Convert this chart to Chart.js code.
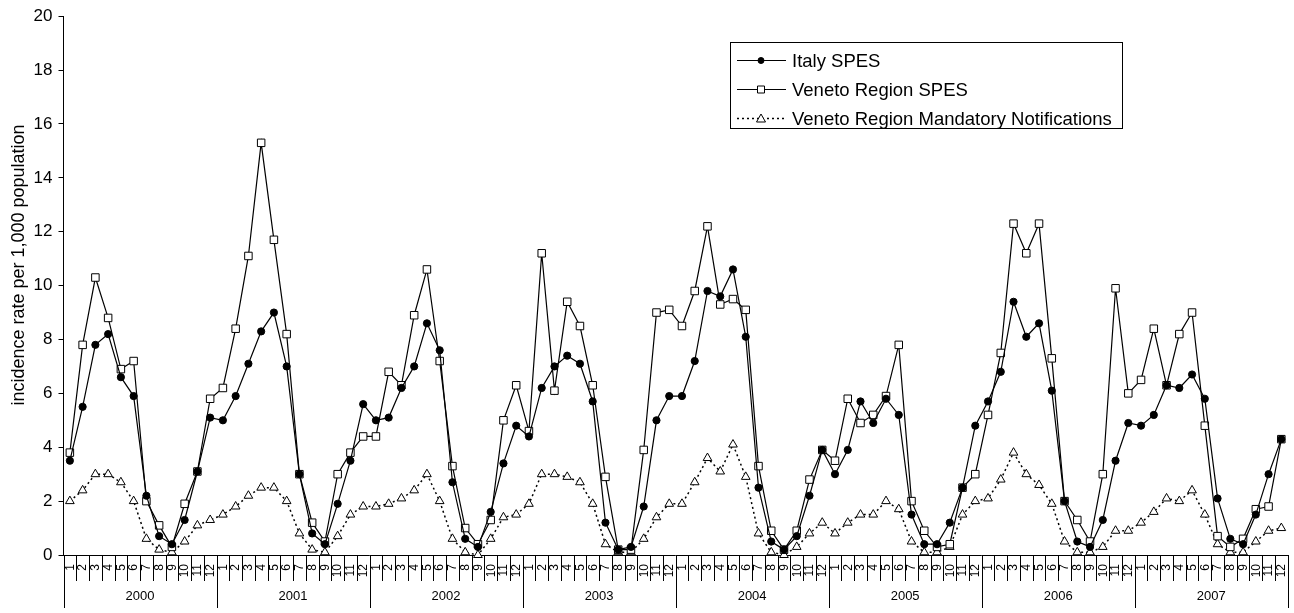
<!DOCTYPE html>
<html>
<head>
<meta charset="utf-8">
<script src="https://cdn.jsdelivr.net/npm/chart.js@4.4.1/dist/chart.umd.min.js"></script>
<style>
  html, body { margin: 0; padding: 0; background: #fff; }
  #wrap { width: 1294px; height: 613px; position: relative; }
</style>
</head>
<body>
<div id="wrap"><canvas id="incidenceChart"></canvas></div>
<script>
// Years and month numbers shown on the two-level x axis
const years = ['2000', '2001', '2002', '2003', '2004', '2005', '2006', '2007'];
const monthLabels = ['1', '2', '3', '4', '5', '6', '7', '8', '9', '10', '11', '12'];
const yTicks = [0, 2, 4, 6, 8, 10, 12, 14, 16, 18, 20];

// Incidence rate per 1,000 population, one value per month 2000-2007
const italySpes = [
    3.5, 5.5, 7.8, 8.2, 6.6, 5.9, 2.2, 0.7, 0.4, 1.3, 3.1, 5.1,
    5.0, 5.9, 7.1, 8.3, 9.0, 7.0, 3.0, 0.8, 0.4, 1.9, 3.5, 5.6,
    5.0, 5.1, 6.2, 7.0, 8.6, 7.6, 2.7, 0.6, 0.3, 1.6, 3.4, 4.8,
    4.4, 6.2, 7.0, 7.4, 7.1, 5.7, 1.2, 0.2, 0.3, 1.8, 5.0, 5.9,
    5.9, 7.2, 9.8, 9.6, 10.6, 8.1, 2.5, 0.5, 0.2, 0.7, 2.2, 3.9,
    3.0, 3.9, 5.7, 4.9, 5.8, 5.2, 1.5, 0.4, 0.4, 1.2, 2.5, 4.8,
    5.7, 6.8, 9.4, 8.1, 8.6, 6.1, 2.0, 0.5, 0.3, 1.3, 3.5, 4.9,
    4.8, 5.2, 6.3, 6.2, 6.7, 5.8, 2.1, 0.6, 0.4, 1.5, 3.0, 4.3
];
const venetoSpes = [
    3.8, 7.8, 10.3, 8.8, 6.9, 7.2, 2.0, 1.1, 0.3, 1.9, 3.1, 5.8,
    6.2, 8.4, 11.1, 15.3, 11.7, 8.2, 3.0, 1.2, 0.5, 3.0, 3.8, 4.4,
    4.4, 6.8, 6.3, 8.9, 10.6, 7.2, 3.3, 1.0, 0.4, 1.3, 5.0, 6.3,
    4.6, 11.2, 6.1, 9.4, 8.5, 6.3, 2.9, 0.2, 0.2, 3.9, 9.0, 9.1,
    8.5, 9.8, 12.2, 9.3, 9.5, 9.1, 3.3, 0.9, 0.2, 0.9, 2.8, 3.9,
    3.5, 5.8, 4.9, 5.2, 5.9, 7.8, 2.0, 0.9, 0.3, 0.4, 2.5, 3.0,
    5.2, 7.5, 12.3, 11.2, 12.3, 7.3, 2.0, 1.3, 0.5, 3.0, 9.9, 6.0,
    6.5, 8.4, 6.3, 8.2, 9.0, 4.8, 0.7, 0.3, 0.6, 1.7, 1.8, 4.3
];
const venetoMandatory = [
    2.0, 2.4, 3.0, 3.0, 2.7, 2.0, 0.6, 0.2, 0.1, 0.5, 1.1, 1.3,
    1.5, 1.8, 2.2, 2.5, 2.5, 2.0, 0.8, 0.2, 0.1, 0.7, 1.5, 1.8,
    1.8, 1.9, 2.1, 2.4, 3.0, 2.0, 0.6, 0.1, 0.0, 0.6, 1.4, 1.5,
    1.9, 3.0, 3.0, 2.9, 2.7, 1.9, 0.4, 0.1, 0.1, 0.6, 1.4, 1.9,
    1.9, 2.7, 3.6, 3.1, 4.1, 2.9, 0.8, 0.1, 0.0, 0.3, 0.8, 1.2,
    0.8, 1.2, 1.5, 1.5, 2.0, 1.7, 0.5, 0.1, 0.1, 0.3, 1.5, 2.0,
    2.1, 2.8, 3.8, 3.0, 2.6, 1.9, 0.5, 0.1, 0.1, 0.3, 0.9, 0.9,
    1.2, 1.6, 2.1, 2.0, 2.4, 1.5, 0.4, 0.1, 0.1, 0.5, 0.9, 1.0
];

const FONT = '"Liberation Sans", Arial, sans-serif';
const labels = years.flatMap(() => monthLabels);

// draws the month labels, category separators and years under the axis, plus the y title
const axisDecor = {
    id: 'axisDecor',
    afterDraw(chart) {
        const ctx = chart.ctx;
        const xs = chart.scales.x;
        const area = chart.chartArea;
        const y0 = area.bottom;
        const n = labels.length;
        const half = (xs.getPixelForValue(1) - xs.getPixelForValue(0)) / 2;
        ctx.save();
        ctx.strokeStyle = '#000';
        ctx.lineWidth = 1;
        for (let i = 0; i <= n; i++) {
            let x = i < n ? xs.getPixelForValue(i) - half : xs.getPixelForValue(n - 1) + half;
            x = Math.round(x) + 0.5;
            const len = (i % 12 === 0) ? 53 : 26;
            ctx.beginPath();
            ctx.moveTo(x, y0);
            ctx.lineTo(x, y0 + len);
            ctx.stroke();
        }
        ctx.fillStyle = '#000';
        ctx.font = '12px ' + FONT;
        ctx.textAlign = 'right';
        ctx.textBaseline = 'middle';
        for (let i = 0; i < n; i++) {
            ctx.save();
            ctx.translate(xs.getPixelForValue(i) + 0.5, y0 + 9);
            ctx.rotate(-Math.PI / 2);
            ctx.fillText(labels[i], 0, 0);
            ctx.restore();
        }
        ctx.font = '13px ' + FONT;
        ctx.textAlign = 'center';
        years.forEach((yr, k) => {
            const xa = xs.getPixelForValue(k * 12) - half;
            const xb = xs.getPixelForValue(k * 12 + 11) + half;
            ctx.fillText(yr, (xa + xb) / 2, y0 + 41);
        });
        // y axis title
        ctx.font = '18px ' + FONT;
        ctx.translate(19, 265);
        ctx.rotate(-Math.PI / 2);
        ctx.fillText('incidence rate per 1,000 population', 0, 0);
        ctx.restore();
    }
};

// boxed legend inside the plot, top right
const boxLegend = {
    id: 'boxLegend',
    afterDraw(chart) {
        const ctx = chart.ctx;
        const bx = 730.5, by = 42.5, bw = 392, bh = 86;
        ctx.save();
        ctx.strokeStyle = '#000';
        ctx.lineWidth = 1;
        ctx.fillStyle = '#fff';
        ctx.fillRect(bx, by, bw, bh);
        ctx.strokeRect(bx, by, bw, bh);
        ctx.font = '18.5px ' + FONT;
        ctx.textBaseline = 'middle';
        ctx.textAlign = 'left';
        chart.data.datasets.forEach((ds, i) => {
            const cy = Math.round(by + 17 + i * 29) + 0.5;
            ctx.strokeStyle = '#000';
            ctx.lineWidth = ds.borderWidth;
            ctx.setLineDash(ds.borderDash || []);
            ctx.beginPath();
            ctx.moveTo(737, cy);
            ctx.lineTo(786, cy);
            ctx.stroke();
            ctx.setLineDash([]);
            ctx.lineWidth = 1;
            ctx.fillStyle = ds.pointBackgroundColor;
            ctx.beginPath();
            if (ds.pointStyle === 'circle') {
                ctx.arc(761, cy, 3, 0, Math.PI * 2);
            } else if (ds.pointStyle === 'rect') {
                ctx.rect(757.5, cy - 3.5, 7, 7);
            } else {
                ctx.moveTo(761, cy - 4.5);
                ctx.lineTo(765.5, cy + 3.5);
                ctx.lineTo(756.5, cy + 3.5);
                ctx.closePath();
            }
            ctx.fill();
            ctx.stroke();
            ctx.fillStyle = '#000';
            ctx.fillText(ds.label, 792, cy + 1);
        });
        ctx.restore();
    }
};

const incidenceChart = new Chart(document.getElementById('incidenceChart'), {
    type: 'line',
    data: {
        labels: labels,
        datasets: [
            {
                label: 'Italy SPES', data: italySpes,
                borderColor: '#000', borderWidth: 1.2, tension: 0,
                pointStyle: 'circle', pointRadius: 3.6, pointBackgroundColor: '#000',
                pointBorderColor: '#000', pointBorderWidth: 1, clip: false
            },
            {
                label: 'Veneto Region SPES', data: venetoSpes,
                borderColor: '#000', borderWidth: 1.2, tension: 0,
                pointStyle: 'rect', pointRadius: 5.3, pointBackgroundColor: '#fff',
                pointBorderColor: '#000', pointBorderWidth: 1, clip: false
            },
            {
                label: 'Veneto Region Mandatory Notifications', data: venetoMandatory,
                borderColor: '#000', borderWidth: 1.5, borderDash: [2, 3], tension: 0,
                pointStyle: 'triangle', pointRadius: 5, pointBackgroundColor: '#fff',
                pointBorderColor: '#000', pointBorderWidth: 1, clip: false
            }
        ]
    },
    options: {
        responsive: true,
        maintainAspectRatio: false,
        animation: false,
        layout: { padding: { left: 0, right: 2, top: 10, bottom: 0 } },
        scales: {
            x: {
                type: 'category',
                offset: true,
                grid: { display: false },
                border: { display: true, color: '#000', width: 1 },
                ticks: { display: false },
                afterFit: (scale) => { scale.height = 58; }
            },
            y: {
                min: 0, max: 20,
                afterBuildTicks: (scale) => { scale.ticks = yTicks.map(v => ({ value: v })); },
                grid: { display: true, drawOnChartArea: false, drawTicks: true, tickLength: 5, color: '#000' },
                border: { display: true, color: '#000', width: 1 },
                ticks: { color: '#000', padding: 6, font: { family: FONT, size: 17 } },
                afterFit: (scale) => { scale.width = 63.5; }
            }
        },
        plugins: {
            legend: { display: false },
            tooltip: { enabled: false }
        }
    },
    plugins: [axisDecor, boxLegend]
});
</script>
</body>
</html>
